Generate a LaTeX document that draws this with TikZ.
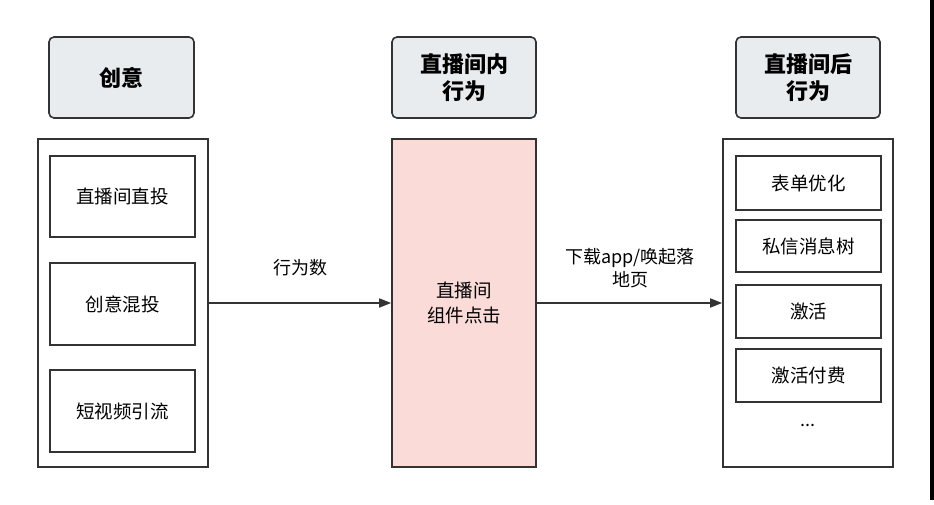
\documentclass[tikz,border=0pt]{standalone}
\usepackage{fontspec}
\newfontfamily\cjk{Noto Sans CJK SC}
\usetikzlibrary{arrows.meta}
\definecolor{hdr}{HTML}{E9ECEF}
\definecolor{pink}{HTML}{FADBD8}
\definecolor{ln}{HTML}{333333}
\begin{document}
\begin{tikzpicture}[x=1pt,y=-1pt,
  box/.style={draw=ln,line width=1.6pt,inner sep=0pt,align=center},
  hdr/.style={box,fill=hdr,rounded corners=5pt,font=\cjk\bfseries\fontsize{22}{27}\selectfont},
  item/.style={box,font=\cjk\fontsize{18.5}{23}\selectfont},
  arr/.style={draw=ln,line width=1.6pt,-{Triangle[length=12pt,width=9pt]}},
  lab/.style={font=\cjk\fontsize{18}{23}\selectfont,align=center}]
\useasboundingbox (0,0) rectangle (934,505);
\fill[white] (0,0) rectangle (934,505);
\fill[black] (930,0) rectangle (934,500);
\node[hdr,minimum width=145pt,minimum height=81pt] (h1) at (121.5,77.5) {创意};
\node[hdr,minimum width=144pt,minimum height=81pt] (h2) at (464,77.5) {直播间内\\行为};
\node[hdr,minimum width=144pt,minimum height=81pt] (h3) at (808,77.5) {直播间后\\行为};
\node[box,minimum width=170pt,minimum height=328pt] (c1) at (123,303) {};
\node[box,fill=pink,minimum width=144pt,minimum height=328pt,font=\cjk\fontsize{18.5}{25}\selectfont] (c2) at (464,303) {直播间\\组件点击};
\node[box,minimum width=170pt,minimum height=328pt] (c3) at (808,303) {};
\node[item,minimum width=145pt,minimum height=81pt] (a1) at (122.5,196.5) {直播间直投};
\node[item,minimum width=145pt,minimum height=82pt] (a2) at (122.5,304) {创意混投};
\node[item,minimum width=145pt,minimum height=82pt] (a3) at (122.5,411) {短视频引流};
\node[item,minimum width=145pt,minimum height=54pt] (b1) at (808.5,183) {表单优化};
\node[item,minimum width=145pt,minimum height=52pt] (b2) at (808.5,246) {私信消息树};
\node[item,minimum width=145pt,minimum height=53pt] (b3) at (808.5,311.5) {激活};
\node[item,minimum width=145pt,minimum height=53pt] (b4) at (808.5,375.5) {激活付费};
\node[lab] (dots) at (808,425) {...};
\draw[arr] (c1.east) -- (c2.west);
\draw[arr] (c2.east) -- (c3.west);
\node[lab] (l1) at (300,268) {行为数};
\node[lab] (l2) at (630,268) {下载app/唤起落\\地页};
\end{tikzpicture}
\end{document}
